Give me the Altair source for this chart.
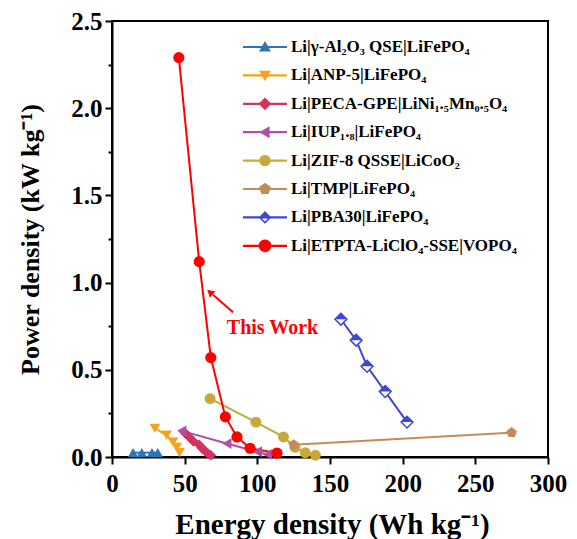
import math
import altair as alt
import pandas as pd

# ---------------- data ----------------
series = [
    "Li|γ-Al₂O₃ QSE|LiFePO₄",
    "Li|ANP-5|LiFePO₄",
    "Li|PECA-GPE|LiNi₁.₅Mn₀.₅O₄",
    "Li|IUP₁.₈|LiFePO₄",
    "Li|ZIF-8 QSSE|LiCoO₂",
    "Li|TMP|LiFePO₄",
    "Li|PBA30|LiFePO₄",
    "Li|ETPTA-LiClO₄-SSE|VOPO₄",
]
colors = ["#2f74b5", "#f7a21b", "#d3335f", "#b04fa8", "#c9a83a", "#c48a5a", "#3e47d6", "#ff0000"]

al2o3_x = [14.5, 20.5, 27.5, 31.5]
al2o3_y = [0.025, 0.025, 0.025, 0.025]
anp_x = [29.5, 37.5, 42, 44.5, 46.5]
anp_y = [0.165, 0.125, 0.085, 0.055, 0.025]
peca_x = [50, 53, 56, 60, 62, 64, 66, 68]
peca_y = [0.14, 0.115, 0.09, 0.07, 0.05, 0.035, 0.02, 0.01]
iup_x = [48, 79, 100, 107]
iup_y = [0.15, 0.077, 0.03, 0.015]
zif_x = [67.5, 99, 118, 126, 133, 140]
zif_y = [0.335, 0.2, 0.115, 0.055, 0.025, 0.01]
tmp_x = [125, 275]
tmp_y = [0.07, 0.14]
pba_x = [157.5, 168, 175.5, 188, 203]
pba_y = [0.79, 0.67, 0.52, 0.375, 0.2]
etpta_x = [46, 60, 68, 78, 86, 95, 113.5]
etpta_y = [2.29, 1.12, 0.57, 0.23, 0.115, 0.05, 0.023]

xs = [al2o3_x, anp_x, peca_x, iup_x, zif_x, tmp_x, pba_x, etpta_x]
ys = [al2o3_y, anp_y, peca_y, iup_y, zif_y, tmp_y, pba_y, etpta_y]

note_text = ["This Work"]
note_x = [79]
note_y = [0.74]
arrow_x = [83.3]
arrow_y = [0.83]
arrow_x2 = [69.5]
arrow_y2 = [0.93]
head_x = [67.4]
head_y = [0.945]

x_ticks = [v * 25 for v in range(13)]
y_ticks = [v * 0.25 for v in range(11)]

# ---------------- tables ----------------
rows = []
for s, xv, yv in zip(series, xs, ys):
    for i, (a, b) in enumerate(zip(xv, yv)):
        rows.append({"series": s, "E": a, "P": b, "idx": i})
df = pd.DataFrame(rows)
note_df = pd.DataFrame({"t": note_text, "x": note_x, "y": note_y})
arrow_df = pd.DataFrame({"x": arrow_x, "y": arrow_y, "x2": arrow_x2, "y2": arrow_y2})
head_df = pd.DataFrame({"x": head_x, "y": head_y})

# ---------------- shapes ----------------
def poly(pts):
    return "M" + "L".join(f"{p[0]:.3f},{p[1]:.3f}" for p in pts) + "Z"

def regular(n, r, start):
    return [(r * math.cos(math.radians(start + 360 * k / n)),
             r * math.sin(math.radians(start + 360 * k / n))) for k in range(n)]

pentagon = poly(regular(5, 1.0, -90))
half_top = poly([(-1, 0), (0, -1), (1, 0)])

w = 0.05
line_rect = poly([(-1, -w), (1, -w), (1, w), (-1, w)])
leg_markers = [
    poly([(0, -0.27), (0.27, 0.21), (-0.27, 0.21)]),
    poly([(-0.27, -0.21), (0.27, -0.21), (0, 0.27)]),
    poly([(0, -0.29), (0.29, 0), (0, 0.29), (-0.29, 0)]),
    poly([(-0.27, 0), (0.21, -0.27), (0.21, 0.27)]),
    poly(regular(20, 0.26, 0)),
    poly(regular(5, 0.28, -90)),
    poly([(-0.29, 0), (0, -0.29), (0.29, 0)]) + poly([(0.29, 0), (0, 0.29), (-0.29, 0), (-0.19, 0), (0, 0.19), (0.19, 0)]),
    poly(regular(20, 0.29, 0)),
]
leg_shapes = [line_rect + m for m in leg_markers]
data_shapes = ["triangle-up", "triangle-down", "diamond", "triangle-left", "circle", pentagon, "diamond", "circle"]
data_sizes = [110, 125, 120, 130, 150, 140, 140, 170]

FONT = "Liberation Serif"

xscale = alt.Scale(domain=[0, 300], nice=False)
yscale = alt.Scale(domain=[0, 2.5], nice=False)


def cscale():
    return alt.Scale(domain=series, range=colors)


x_axis = alt.Axis(
    values=x_ticks,
    labelExpr="datum.value % 50 === 0 ? format(datum.value, 'd') : ''",
    tickSize={"condition": {"test": "datum.value % 50 === 0", "value": 7}, "value": 4},
    title="Energy density (Wh kg⁻¹)",
    titleX=220, titleY=76, titleBaseline="alphabetic", titleAlign="center",
    titleFontSize=29, labelPadding=7,
)
y_axis = alt.Axis(
    values=y_ticks,
    labelExpr="(datum.value * 2) % 1 === 0 ? format(datum.value, '.1f') : ''",
    tickSize={"condition": {"test": "(datum.value * 2) % 1 === 0", "value": 7}, "value": 4},
    title="Power density (kW kg⁻¹)",
    titleX=-82, titleY=218, titleAngle=270, titleAlign="center", titleBaseline="middle",
    titleFontSize=26, labelPadding=3,
)

X = alt.X("E:Q", scale=xscale, axis=x_axis)
Y = alt.Y("P:Q", scale=yscale, axis=y_axis)

base = alt.Chart(df)

lines = base.mark_line(strokeWidth=2).encode(
    x=X, y=Y,
    color=alt.Color("series:N", scale=cscale(), legend=None),
    detail="series:N",
    order="idx:Q",
)

pts = base.transform_filter(f"datum.series != '{series[6]}'").mark_point(filled=True, opacity=1).encode(
    x=X, y=Y,
    color=alt.Color("series:N", scale=cscale(), legend=None),
    shape=alt.Shape("series:N", scale=alt.Scale(domain=series, range=data_shapes), legend=None),
    size=alt.Size("series:N", scale=alt.Scale(domain=series, range=data_sizes), legend=None),
)

pba_open = base.transform_filter(f"datum.series == '{series[6]}'").mark_point(
    shape="diamond", fill="white", stroke=colors[6], strokeWidth=1.5, size=140, opacity=1, filled=False
).encode(x=X, y=Y)
pba_half = base.transform_filter(f"datum.series == '{series[6]}'").mark_point(
    shape=half_top, fill=colors[6], filled=True, size=140, opacity=1, strokeWidth=0
).encode(x=X, y=Y)

legend_props = dict(
    title=None, orient="none", legendX=131, legendY=16,
    labelFont=FONT, labelFontSize=17, labelFontWeight="bold", labelColor="black",
    labelLimit=500, symbolSize=1936, clipHeight=20, rowPadding=8.4, labelOffset=4, padding=0,
    symbolStrokeWidth=0, symbolLimit=0, symbolOpacity=1,
)

legend_layer = base.transform_filter("false").mark_point(filled=True, opacity=1).encode(
    x=X, y=Y,
    color=alt.Color("series:N", scale=cscale(), legend=alt.Legend(**legend_props)),
    shape=alt.Shape("series:N", scale=alt.Scale(domain=series, range=leg_shapes),
                    legend=alt.Legend(**legend_props)),
)

note = alt.Chart(note_df).mark_text(
    font=FONT, fontWeight="bold", fontSize=20, color="#ff0000", align="left", baseline="middle"
).encode(x=alt.X("x:Q", scale=xscale), y=alt.Y("y:Q", scale=yscale), text="t:N")

arrow = alt.Chart(arrow_df).mark_rule(color="#ff0000", strokeWidth=2).encode(
    x=alt.X("x:Q", scale=xscale), y=alt.Y("y:Q", scale=yscale), x2="x2:Q", y2="y2:Q"
)
head = alt.Chart(head_df).mark_point(
    shape="triangle-up", filled=True, color="#ff0000", size=70, angle=311, opacity=1
).encode(x=alt.X("x:Q", scale=xscale), y=alt.Y("y:Q", scale=yscale))

chart = alt.layer(
    lines, pts, pba_open, pba_half, legend_layer, note, arrow, head
).resolve_scale(
    color="independent", shape="independent", size="independent"
).properties(
    width=436, height=436,
    autosize=alt.AutoSizeParams(type="none"),
    padding={"left": 104, "top": 13, "right": 21, "bottom": 90},
).configure_view(
    stroke="black", strokeWidth=2
).configure_axis(
    labelFont=FONT, labelFontSize=25, labelFontWeight="bold", labelColor="black",
    titleFont=FONT, titleFontWeight="bold", titleColor="black",
    domainColor="black", domainWidth=2, tickColor="black", tickWidth=2,
    grid=False, labelFlush=False, labelOverlap=False,
)

chart.save("out.html", embed_options={"renderer": "svg", "actions": False})
